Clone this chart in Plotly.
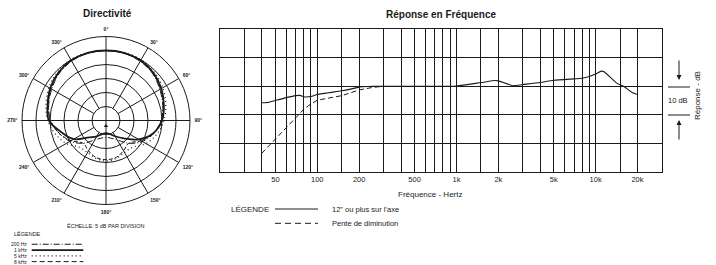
import plotly.graph_objects as go

W, H = 716, 265
FONT = "Liberation Sans, Arial, Helvetica, sans-serif"
INK = "#1a1a1a"

# ---------------- polar data (dB, outer circle = 0 dB, 5 dB per division) -------------
angles = [0, 15, 30, 45, 60, 75, 90, 105, 120, 135, 150, 165, 180,
          195, 210, 225, 240, 255, 270, 285, 300, 315, 330, 345, 360]
pol_200 = [-5.0, -5.1, -5.6, -6.4, -7.8, -9.0, -10.3, -12.3, -15.0, -18.5, -22.0, -23.5, -24.0,
           -23.5, -22.0, -18.5, -15.2, -12.6, -10.2, -8.8, -7.6, -6.3, -5.5, -5.1, -5.0]
pol_1k = [-5.0, -5.0, -5.3, -6.0, -7.2, -8.6, -10.0, -12.5, -16.5, -21.0, -23.5, -25.0, -25.5,
          -25.0, -23.5, -21.5, -16.7, -13.6, -9.6, -8.4, -7.0, -5.9, -5.2, -5.0, -5.0]
pol_5k = [-5.0, -4.9, -4.9, -5.6, -6.6, -7.9, -9.3, -11.2, -13.5, -16.5, -16.8, -16.0, -15.5,
          -16.0, -16.8, -16.5, -13.6, -11.3, -9.2, -7.8, -6.5, -5.5, -4.9, -4.9, -5.0]
pol_8k = [-5.0, -5.1, -5.4, -6.3, -7.6, -8.9, -10.3, -12.5, -15.5, -18.5, -17.5, -16.3, -16.0,
          -16.3, -17.5, -18.5, -15.6, -12.6, -10.1, -8.7, -7.4, -6.2, -5.3, -5.1, -5.0]
angle_ticks = [0, 30, 60, 90, 120, 150, 180, 210, 240, 270, 300, 330]
angle_labels = ["0°", "30°", "60°", "90°", "120°", "150°", "180°", "210°", "240°", "270°", "300°", "330°"]
ring_levels = [-25, -20, -15, -10, -5, 0]

# ---------------- frequency response data ---------------------------------------------
freq_axis = [40, 45, 50, 60, 70, 75, 80, 90, 100, 120, 150, 170, 200, 250, 300, 500,
             1000, 1500, 1900, 2000, 2550, 3000, 4000, 5000, 7000, 8000, 9000, 10000,
             11000, 11500, 14300, 16000, 18300, 20000]
resp_axis = [-5.8, -5.6, -5.0, -4.0, -3.3, -3.2, -3.7, -3.6, -2.9, -2.3, -1.6, -1.1, -0.3, 0.0, 0.0, 0.0,
             0.1, 1.3, 2.0, 1.9, 0.2, 0.6, 1.3, 2.1, 2.6, 2.8, 3.4, 4.3,
             5.3, 5.1, 1.0, -0.1, -2.2, -2.9]
freq_off = [40, 50, 60, 70, 80, 90, 100, 150, 200, 250, 300]
resp_off = [-23.5, -18.6, -14.5, -11.0, -8.1, -6.2, -4.9, -3.3, -1.3, -0.4, 0.0]

major_freqs = [50, 100, 200, 500, 1000, 2000, 5000, 10000, 20000]
major_labels = ["50", "100", "200", "500", "1k", "2k", "5k", "10k", "20k"]
minor_freqs = [30, 40, 60, 70, 80, 90, 150, 300, 400, 600, 700, 800, 900,
               1500, 3000, 4000, 6000, 7000, 8000, 9000, 15000]
db_grid = [-30, -20, -10, 0, 10, 20]


def px(x):
    return x / W


def py(y):
    return 1 - y / H


fig = go.Figure()

# ---- polar grid spokes (stop at the innermost ring) and diameters ----
spoke_r, spoke_t = [], []
for a in angle_ticks:
    if a % 90 == 0:
        continue
    spoke_r += [ring_levels[0], ring_levels[-1], None]
    spoke_t += [a, a, None]
fig.add_trace(go.Scatterpolar(r=spoke_r, theta=spoke_t, mode="lines",
                              line=dict(color=INK, width=1), connectgaps=False,
                              hoverinfo="skip", showlegend=False))
for a in (0, 90):
    fig.add_trace(go.Scatterpolar(r=[0, -30, 0], theta=[a, a, a + 180], mode="lines",
                                  line=dict(color=INK, width=1),
                                  hoverinfo="skip", showlegend=False))

# ---- polar curves ----
fig.add_trace(go.Scatterpolar(r=pol_200, theta=angles, mode="lines", name="200 Hz",
                              line=dict(color=INK, width=1, dash="6px,2px,1px,2px", shape="spline"),
                              showlegend=False))
fig.add_trace(go.Scatterpolar(r=pol_5k, theta=angles, mode="lines", name="5 kHz",
                              line=dict(color=INK, width=1.2, dash="1px,3px", shape="spline"),
                              showlegend=False))
fig.add_trace(go.Scatterpolar(r=pol_8k, theta=angles, mode="lines", name="8 kHz",
                              line=dict(color=INK, width=1, dash="4px,2px", shape="spline"),
                              showlegend=False))
fig.add_trace(go.Scatterpolar(r=pol_1k, theta=angles, mode="lines", name="1 kHz",
                              line=dict(color=INK, width=1.8, shape="spline"),
                              showlegend=False))
# microphone marker at centre
fig.add_trace(go.Scatterpolar(r=[-28], theta=[180], mode="markers",
                              marker=dict(symbol="triangle-up", size=4, color=INK),
                              hoverinfo="skip", showlegend=False))

# ---- frequency response ----
fig.add_trace(go.Scatter(x=freq_off, y=resp_off, mode="lines", name="Pente de diminution",
                         line=dict(color=INK, width=1, dash="5px,3px"), showlegend=False))
fig.add_trace(go.Scatter(x=freq_axis, y=resp_axis, mode="lines", name="12\" ou plus sur l'axe",
                         line=dict(color=INK, width=1.1, shape="spline", smoothing=0.6),
                         showlegend=False))

pcx, pcy, pr = 106, 120.5, 84
fig.update_layout(
    width=W, height=H,
    margin=dict(l=0, r=0, t=0, b=0),
    paper_bgcolor="white", plot_bgcolor="white",
    font=dict(family=FONT, color=INK),
    showlegend=False,
    polar=dict(
        domain=dict(x=[px(pcx - pr), px(pcx + pr)], y=[py(pcy + pr), py(pcy - pr)]),
        bgcolor="white",
        radialaxis=dict(range=[-30, 0], tickvals=ring_levels, showticklabels=False,
                        showline=False, ticks="", gridcolor=INK, gridwidth=1),
        angularaxis=dict(rotation=90, direction="clockwise", tickvals=angle_ticks,
                         ticktext=["<b>%s</b>" % t for t in angle_labels],
                         showgrid=False, showline=True, linecolor=INK, linewidth=1,
                         ticks="outside", ticklen=3, tickcolor="rgba(0,0,0,0)",
                         tickfont=dict(size=5, family=FONT, color=INK)),
    ),
    xaxis=dict(
        domain=[px(220), px(662)], type="log",
        range=[1.30103, 4.47712],
        tickvals=major_freqs, ticktext=major_labels,
        showgrid=True, gridcolor=INK, gridwidth=1.4,
        minor=dict(tickvals=minor_freqs, showgrid=True, gridcolor=INK, gridwidth=0.9, ticks=""),
        showline=True, linecolor=INK, linewidth=1.2, mirror=True,
        ticks="", tickfont=dict(size=7.5, family=FONT, color=INK), zeroline=False,
    ),
    yaxis=dict(
        domain=[py(171.7), py(29.3)], range=[-30, 20],
        tickvals=db_grid, showticklabels=False, ticks="",
        showgrid=True, gridcolor=INK, gridwidth=1,
        showline=True, linecolor=INK, linewidth=1.2, mirror=True, zeroline=False,
    ),
)

ann = []


def text(x, y, s, size, bold=False, xanchor="center", angle=0):
    ann.append(dict(x=px(x), y=py(y), xref="paper", yref="paper", text=("<b>%s</b>" % s) if bold else s,
                    showarrow=False, xanchor=xanchor, yanchor="middle", textangle=angle,
                    font=dict(size=size, family=FONT, color=INK)))


text(107, 14, "Directivité", 10, bold=True)
text(441, 15, "Réponse en Fréquence", 10, bold=True)
text(430, 194, "Fréquence - Hertz", 8)
text(678, 100, "10 dB", 7.5)
text(698, 96, "Réponse - dB", 8, angle=-90)
text(106, 225.7, "ÉCHELLE: 5 dB PAR DIVISION", 5.5)
text(11.7, 233.5, "LÉGENDE", 5.5, xanchor="left")
text(229, 209.3, "LÉGENDE", 8, xanchor="left")
text(330, 209.3, "12\" ou plus sur l'axe", 7.5, xanchor="left")
text(330, 223.3, "Pente de diminution", 7.5, xanchor="left")

pol_leg = [("200 Hz", 244.3, "6px,2px,1px,2px", 1.1),
           ("1 kHz", 250.1, "solid", 1.6),
           ("5 kHz", 255.9, "1px,3px", 1.1),
           ("8 kHz", 261.6, "5px,3px", 1.0)]
shapes = []
for name, y, dash, w in pol_leg:
    text(29, y, name, 5, xanchor="right")
    shapes.append(dict(type="line", xref="paper", yref="paper", x0=px(31.7), x1=px(83.3),
                       y0=py(y), y1=py(y), line=dict(color=INK, width=w, dash=dash)))

shapes.append(dict(type="line", xref="paper", yref="paper", x0=px(275), x1=px(318),
                   y0=py(209), y1=py(209), line=dict(color=INK, width=1)))
shapes.append(dict(type="line", xref="paper", yref="paper", x0=px(275), x1=px(318),
                   y0=py(223.3), y1=py(223.3), line=dict(color=INK, width=1, dash="6px,4px")))
# 10 dB bracket
for y in (87, 115):
    shapes.append(dict(type="line", xref="paper", yref="paper", x0=px(668), x1=px(690),
                       y0=py(y), y1=py(y), line=dict(color=INK, width=1)))
# arrows (head position, tail offset in pixels)
for head, off in ((80, -21), (120, 21)):
    ann.append(dict(x=px(679), y=py(head), xref="paper", yref="paper",
                    ax=0, ay=off, axref="pixel", ayref="pixel",
                    text="", showarrow=True, arrowhead=2, arrowsize=1, arrowwidth=1,
                    arrowcolor=INK))

fig.update_layout(annotations=ann, shapes=shapes)
fig.write_html("out.html",
               config={"displayModeBar": False},
               post_script="document.body.style.margin='0';document.body.style.overflow='hidden';")
